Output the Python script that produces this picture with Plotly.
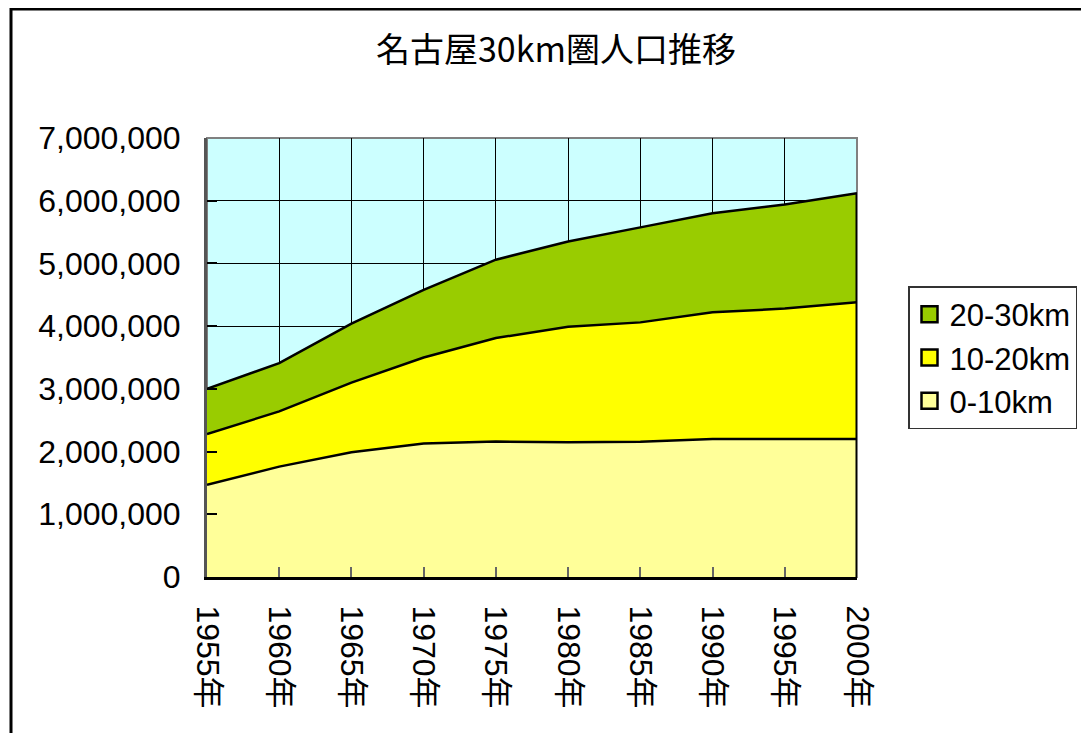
import plotly.graph_objects as go

years = [1955, 1960, 1965, 1970, 1975, 1980, 1985, 1990, 1995, 2000]
year_labels = [f"{y}年" for y in years]
series_names = ["0-10km", "10-20km", "20-30km"]
pop_0_10 = [1470000, 1760000, 1990000, 2130000, 2160000, 2150000, 2155000, 2200000, 2200000, 2200000]
pop_10_20 = [810000, 880000, 1110000, 1370000, 1650000, 1840000, 1905000, 2020000, 2080000, 2180000]
pop_20_30 = [720000, 770000, 940000, 1080000, 1250000, 1360000, 1515000, 1580000, 1660000, 1740000]
y_ticks = [0, 1000000, 2000000, 3000000, 4000000, 5000000, 6000000, 7000000]

colors = ["#FFFF99", "#FFFF00", "#99CC00"]
FONT = "Liberation Sans, Arial, Noto Sans CJK JP, sans-serif"
TFONT = "Noto Sans CJK JP, sans-serif"

fig = go.Figure()
for name, vals, col in zip(series_names, [pop_0_10, pop_10_20, pop_20_30], colors):
    fig.add_trace(go.Scatter(
        x=years, y=vals, name=name, mode="lines", stackgroup="one",
        fillcolor=col, line=dict(color="black", width=2.5), showlegend=False,
    ))
    # legend-only square swatch
    fig.add_trace(go.Scatter(
        x=[None], y=[None], name=name, mode="markers",
        marker=dict(symbol="square", size=19, color=col, line=dict(color="black", width=2.5)),
    ))

total_end = pop_0_10[-1] + pop_10_20[-1] + pop_20_30[-1]
fig.add_trace(go.Scatter(x=[years[-1], years[-1]], y=[0, total_end], mode="lines",
                         line=dict(color="black", width=3), showlegend=False, hoverinfo="skip"))

OFF = 8  # page body margin
W, H = 1089 - OFF, 733 - OFF
L, R, T, B = 207 - OFF, 857 - OFF, 138 - OFF, 577 - OFF
pw, ph = R - L, B - T

def px_x(p):
    return (p - OFF - L) / pw

def px_y(p):
    return (B - (p - OFF)) / ph

fig.update_layout(
    width=W, height=H,
    margin=dict(l=L, r=W - R, t=T, b=H - B, pad=0),
    paper_bgcolor="white", plot_bgcolor="#CCFFFF",
    font=dict(family=FONT, color="black", size=32),
    title=dict(text="名古屋30km圏人口推移", font=dict(size=34, family=TFONT, color="black"),
               x=px_x(556), xref="paper", xanchor="center",
               y=1 - (50 - OFF) / H, yref="container", yanchor="middle"),
    xaxis=dict(range=[years[0], years[-1]], tickvals=years, ticktext=year_labels,
               tickangle=90, showgrid=True, gridcolor="black", gridwidth=1,
               showline=True, linecolor="black", linewidth=3,
               ticks="inside", ticklen=10, tickcolor="#666666", tickwidth=2,
               ticklabelstandoff=19, tickfont=dict(size=32, family=FONT)),
    yaxis=dict(range=[0, 7000000], tickvals=y_ticks, tickformat=",d",
               showgrid=True, gridcolor="black", gridwidth=1,
               showline=True, linecolor="#555555", linewidth=3,
               ticks="inside", ticklen=10, tickcolor="black", tickwidth=1.5,
               ticklabelstandoff=17, tickfont=dict(size=32, family=FONT), zeroline=False),
    legend=dict(x=px_x(908), y=px_y(286), xanchor="left", yanchor="top",
                traceorder="reversed", bordercolor="#333333", borderwidth=1.5,
                bgcolor="white", font=dict(size=31, family=FONT),
                itemwidth=30, tracegroupgap=0),
    showlegend=True,
)

fig.add_shape(type="rect", xref="paper", yref="paper", x0=0, x1=1, y0=0, y1=1,
              line=dict(color="#808080", width=2), layer="below", fillcolor="rgba(0,0,0,0)")
fig.add_shape(type="rect", xref="paper", yref="paper",
              x0=px_x(11), x1=px_x(1089 + 10), y0=px_y(733 + 10), y1=px_y(9),
              line=dict(color="black", width=3), fillcolor="rgba(0,0,0,0)")

fig.write_html("out.html")
